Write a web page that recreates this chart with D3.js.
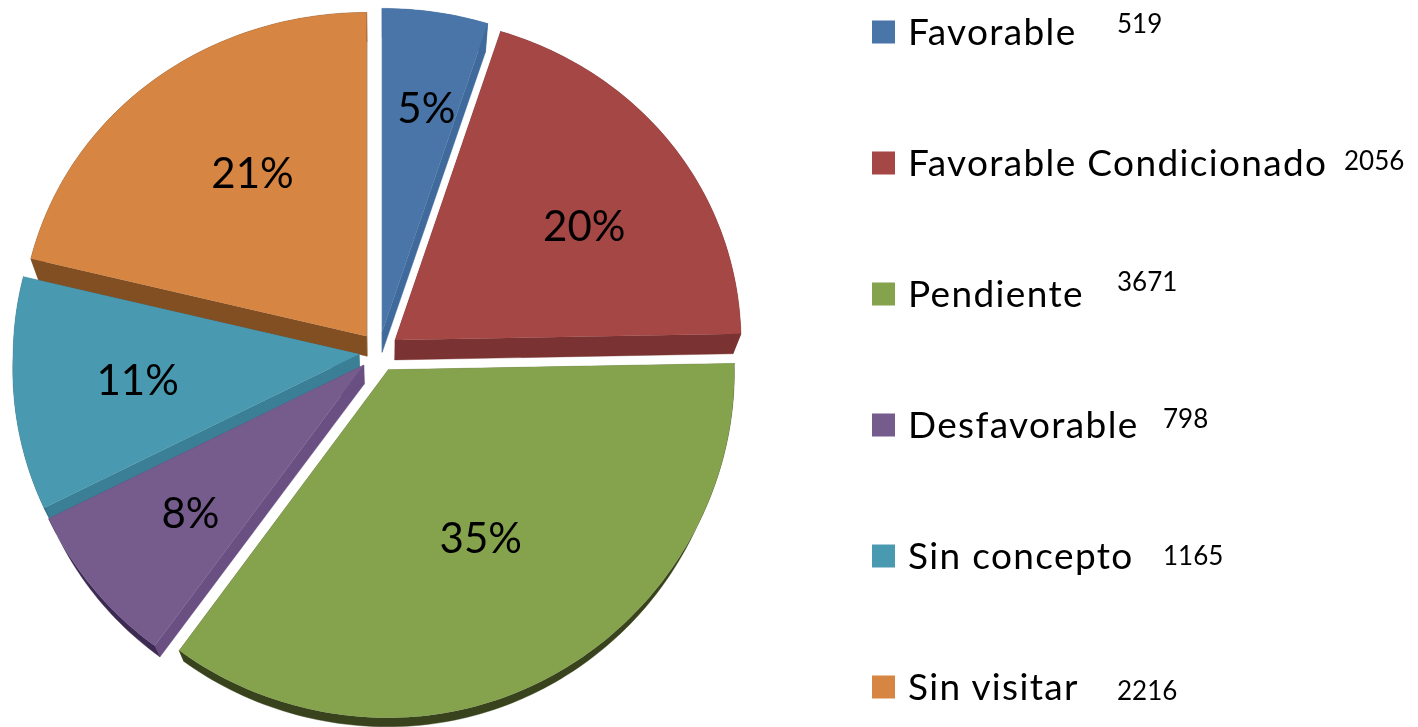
<!DOCTYPE html>
<html>
<head>
<meta charset="utf-8">
<script src="https://cdn.jsdelivr.net/npm/d3@7"></script>
<style>
	html, body { margin: 0; padding: 0; background: #fff; }
	svg { display: block; }
	text { font-family: Lato, "Open Sans", sans-serif; fill: #000; }
</style>
</head>
<body>
<svg id="chart" width="1418" height="727"></svg>
<script>
// values
var categories = ["Favorable", "Favorable Condicionado", "Pendiente", "Desfavorable", "Sin concepto", "Sin visitar"];
var counts = [519, 2056, 3671, 798, 1165, 2216];
var percentLabels = ["5%", "20%", "35%", "8%", "11%", "21%"];

// slice colours: top face, radial wall, outer rim
var topColors = ["#4874a8", "#a44644", "#85a24e", "#745b8d", "#4a99b1", "#d68543"];
var wallColors = ["#3f6b9c", "#7a3130", "#5f7436", "#694f82", "#3a7f96", "#824f22"];
var rimColors = ["#3f6b9c", "#7a3130", "#38421c", "#3c2c52", "#2f6a7e", "#824f22"];

// where each percent label sits, from the pie centre along the slice middle
var labelRadius = [249, 241, 212, 248, 243, 219];
var labelTurn = [2, 5, -1, 0, 0, 3];

// legend number placement
var valueX = [1117, 1344, 1117, 1163, 1163, 1117];
var valueDy = [1, 7, -3, 3, 9, 13];

var Pie = (function(){
	var svg = d3.select("#chart");
	var cx = 379, cy = 352, explode = 20, radius = 346;

	// soft edges, the reference is an enlarged screenshot
	svg.append("defs").append("filter")
		.attr("id", "soft")
		.append("feGaussianBlur")
		.attr("stdDeviation", 0.5);
	var root = svg.append("g").attr("filter", "url(#soft)");

	// lid is tilted a little, the near half comes out bigger than the far half
	var project = function(angle, r){
		var s = Math.sin(angle), c = Math.cos(angle);
		var sx = 1 - c * 0.009 + (c < 0 && s < 0 ? -c * 0.035 : 0);
		return [r * s * sx, -r * c * (0.971 - c * 0.035)];
	};

	// depth of the extrusion shrinks towards the bottom of the picture
	var drop = function(p){
		return [p[0] + (386 - p[0]) * 0.0226, p[1] + (1031 - p[1]) * 0.0287];
	};

	var line = d3.line();

	var outline = function(d){
		var mid = (d.startAngle + d.endAngle) / 2;
		var apex = [cx + explode * Math.sin(mid), cy - explode * Math.cos(mid)];
		var steps = Math.ceil((d.endAngle - d.startAngle) / 0.02);
		var rim = d3.range(steps + 1).map(function(i){
			var a = d.startAngle + (d.endAngle - d.startAngle) * i / steps;
			var p = project(a, radius);
			return [apex[0] + p[0], apex[1] + p[1]];
		});
		return {apex: apex, rim: rim};
	};

	var wallQuad = function(a, b){
		return line([a, b, drop(b), drop(a)]) + "Z";
	};

	var renderSlices = function(){
		var arcs = d3.pie().sort(null)(counts);
		var order = arcs.slice().sort(function(a, b){
			return Math.cos((b.startAngle + b.endAngle) / 2) - Math.cos((a.startAngle + a.endAngle) / 2);
		});
		order.forEach(function(d){
			var o = outline(d);
			var g = root.append("g").attr("class", "slice");
			var first = o.rim[0], last = o.rim[o.rim.length - 1];

			[[o.apex, first], [last, o.apex]].forEach(function(w){
				g.append("path")
					.attr("d", wallQuad(w[0], w[1]))
					.attr("fill", wallColors[d.index])
					.attr("stroke", wallColors[d.index])
					.attr("stroke-width", 0.4);
			});
			var below = o.rim.map(drop).reverse();
			g.append("path")
				.attr("d", line(o.rim.concat(below)) + "Z")
				.attr("fill", rimColors[d.index])
				.attr("stroke", rimColors[d.index])
				.attr("stroke-width", 0.4);
			g.append("path")
				.attr("d", line([o.apex].concat(o.rim)) + "Z")
				.attr("fill", topColors[d.index]);
		});

		arcs.forEach(function(d){
			var mid = (d.startAngle + d.endAngle) / 2 + labelTurn[d.index] * Math.PI / 180;
			var x = cx + labelRadius[d.index] * Math.sin(mid);
			var y = cy - labelRadius[d.index] * Math.cos(mid);
			root.append("text")
				.attr("x", x)
				.attr("y", y)
				.attr("dy", "0.36em")
				.attr("text-anchor", "middle")
				.attr("font-size", 42)
				.text(percentLabels[d.index]);
		});
	};

	var renderLegend = function(){
		var y = d3.scalePoint().domain(categories).range([32, 687]);
		var rows = root.selectAll("g.legend")
			.data(categories)
			.enter()
			.append("g")
			.attr("class", "legend")
			.attr("transform", function(d){ return "translate(0," + y(d) + ")"; });
		rows.append("rect")
			.attr("x", 872)
			.attr("y", -11.5)
			.attr("width", 23)
			.attr("height", 23)
			.attr("fill", function(d, i){ return topColors[i]; });
		rows.append("text")
			.attr("x", 908)
			.attr("y", 13)
			.attr("font-size", 37)
			.attr("letter-spacing", 1.35)
			.text(function(d){ return d; });
		rows.append("text")
			.attr("x", function(d, i){ return valueX[i]; })
			.attr("y", function(d, i){ return valueDy[i]; })
			.attr("font-size", 26)
			.text(function(d, i){ return counts[i]; });
	};

	return {
		render: function(){
			renderSlices();
			renderLegend();
		}
	};
})();

Pie.render();
</script>
</body>
</html>
